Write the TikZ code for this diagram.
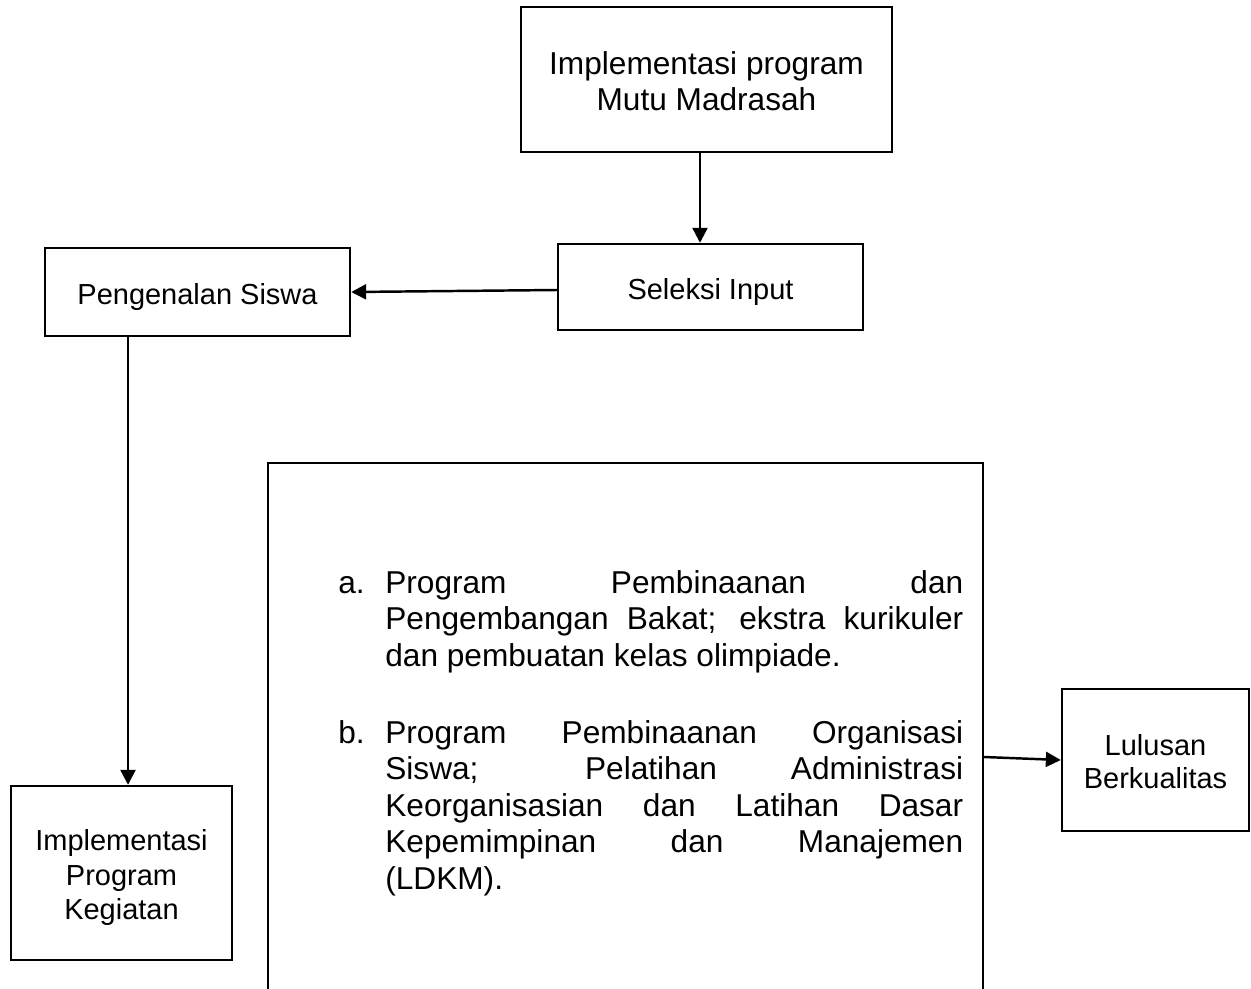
\documentclass[tikz,border=0pt]{standalone}
\usepackage{fontspec}
\setmainfont{Liberation Sans}
\usetikzlibrary{arrows.meta}

% struts that fix the first baseline and the last depth of a text block
\newcommand\tstrut{\rule{0pt}{1.08em}}
\newcommand\bstrut{\rule[-0.25em]{0pt}{0.25em}}
% one justified line of the program list, and its item label
\newcommand\jline[1]{\hbox to 11.56cm{#1}}
\newcommand\itemlabel[1]{\makebox[0.94cm][l]{#1}}

\begin{document}
\begin{tikzpicture}[x=0.02cm, y=-0.02cm,
  box/.style={draw, line width=1.4pt, inner sep=0pt, align=center},
  small/.style={font=\fontsize{16.5}{#1}\selectfont},
  large/.style={font=\fontsize{18}{#1}\selectfont},
  listtext/.style={inner sep=0pt, align=left, anchor=north west,
    font=\fontsize{18}{20.77}\selectfont},
  arr/.style={line width=1.4pt, -{Triangle[length=8.5pt,width=8.5pt]}}]

\useasboundingbox (0,0) rectangle (1251,988);
\clip (0,0) rectangle (1251,988);

% flow boxes
\node[box, large=20.5, minimum width=7.42cm, minimum height=2.9cm]
  (top) at (706.5,79.5) {\tstrut Implementasi program\\Mutu Madrasah\bstrut};
\node[box, small=20.5, minimum width=6.10cm, minimum height=1.72cm]
  (sel) at (710.5,287) {\tstrut Seleksi Input\bstrut};
\node[box, small=20.5, minimum width=6.10cm, minimum height=1.76cm]
  (peng) at (197.5,292) {\tstrut Pengenalan Siswa\bstrut};
\node[box, small=19.49, minimum width=4.42cm, minimum height=3.48cm]
  (impl) at (121.5,873) {\tstrut Implementasi\\Program\\Kegiatan\bstrut};
\node[box, small=18.78, minimum width=3.74cm, minimum height=2.84cm]
  (lul) at (1155.5,760) {\tstrut Lulusan\\Berkualitas\bstrut};

% program box, open at the bottom of the page
\node[box, minimum width=14.30cm, minimum height=10.94cm]
  (prog) at (625.5,736.5) {};

\node[listtext] (itema) at (338,558.8)
  {\itemlabel{a.}\tstrut\jline{Program Pembinaanan dan}\\
   \hspace*{0.94cm}\jline{Pengembangan Bakat; ekstra kurikuler}\\
   \hspace*{0.94cm}dan pembuatan kelas olimpiade.};
\node[listtext] (itemb) at (338,708.8)
  {\itemlabel{b.}\tstrut\jline{Program Pembinaanan Organisasi}\\
   \hspace*{0.94cm}\jline{Siswa; Pelatihan Administrasi}\\
   \hspace*{0.94cm}\jline{Keorganisasian dan Latihan Dasar}\\
   \hspace*{0.94cm}\jline{Kepemimpinan dan Manajemen}\\
   \hspace*{0.94cm}(LDKM).};

% connectors
\coordinate (inlvl) at (0,290);
\coordinate (outlvl) at (0,757);
\draw[arr] ([xshift=-0.13cm]top.south) -- ([xshift=-0.13cm]top.south |- sel.north);
\draw[arr] (sel.west |- inlvl) -- (peng.east);
\draw[arr] ([xshift=-1.39cm]peng.south) -- ([xshift=-1.39cm]peng.south |- impl.north);
\draw[arr] (prog.east |- outlvl) -- (lul.west);
\end{tikzpicture}
\end{document}
